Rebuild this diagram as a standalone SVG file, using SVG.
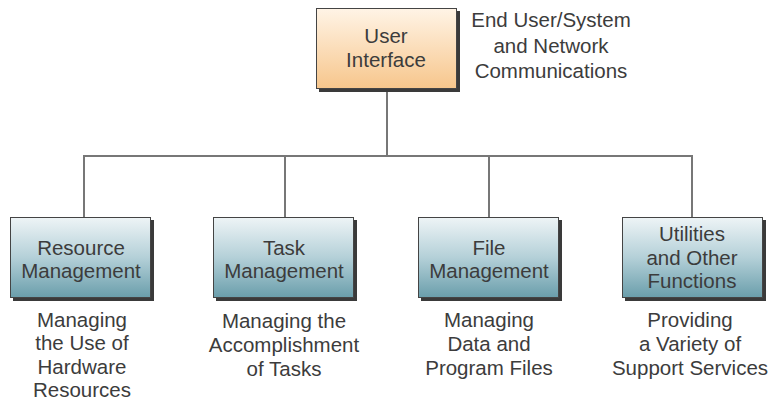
<svg xmlns="http://www.w3.org/2000/svg" width="770" height="401" viewBox="0 0 770 401">
  <defs>
    <linearGradient id="gOrange" x1="0" y1="0" x2="0" y2="1">
      <stop offset="0" stop-color="#fff4e6"/>
      <stop offset="1" stop-color="#f7c68c"/>
    </linearGradient>
    <linearGradient id="gTeal" x1="0" y1="0" x2="0" y2="1">
      <stop offset="0" stop-color="#eef4f6"/>
      <stop offset="0.5" stop-color="#b4d0d8"/>
      <stop offset="1" stop-color="#6a9eab"/>
    </linearGradient>
  </defs>
  <style>
    .shadow { fill: #3a3a3a; }
    .box { stroke: #444; stroke-width: 1; }
    .t { font-family: "Liberation Sans", Arial, sans-serif; font-size: 20.5px; fill: #3c3c3c; text-anchor: middle; }
    .conn { stroke: #777; stroke-width: 2; fill: none; }
  </style>

  <g id="connectors">
    <path class="conn" d="M387 89 V156 M84 217 V156 H692 V217 M285 156 V217 M489 156 V217"/>
  </g>

  <g id="user-interface">
    <rect class="shadow" x="319" y="11" width="141" height="81"/>
    <rect class="box" x="316.5" y="8.5" width="140" height="80" fill="url(#gOrange)"/>
    <text class="t" x="386" y="43">User</text>
    <text class="t" x="386" y="67">Interface</text>
  </g>

  <g id="comm-label">
    <text class="t" x="551" y="27">End User/System</text>
    <text class="t" x="551" y="53">and Network</text>
    <text class="t" x="551" y="78">Communications</text>
  </g>

  <g id="resource-management">
    <rect class="shadow" x="13" y="220" width="141" height="81"/>
    <rect class="box" x="10.5" y="217.5" width="140" height="80" fill="url(#gTeal)"/>
    <text class="t" x="81" y="255">Resource</text>
    <text class="t" x="81" y="278">Management</text>
    <text class="t" x="82" y="327">Managing</text>
    <text class="t" x="82" y="350">the Use of</text>
    <text class="t" x="82" y="374">Hardware</text>
    <text class="t" x="82" y="397">Resources</text>
  </g>

  <g id="task-management">
    <rect class="shadow" x="216" y="220" width="141" height="81"/>
    <rect class="box" x="213.5" y="217.5" width="140" height="80" fill="url(#gTeal)"/>
    <text class="t" x="284" y="255">Task</text>
    <text class="t" x="284" y="278">Management</text>
    <text class="t" x="284" y="328">Managing the</text>
    <text class="t" x="284" y="352">Accomplishment</text>
    <text class="t" x="284" y="376">of Tasks</text>
  </g>

  <g id="file-management">
    <rect class="shadow" x="421" y="220" width="141" height="81"/>
    <rect class="box" x="418.5" y="217.5" width="140" height="80" fill="url(#gTeal)"/>
    <text class="t" x="489" y="255">File</text>
    <text class="t" x="489" y="278">Management</text>
    <text class="t" x="489" y="327">Managing</text>
    <text class="t" x="489" y="351">Data and</text>
    <text class="t" x="489" y="375">Program Files</text>
  </g>

  <g id="utilities">
    <rect class="shadow" x="625" y="220" width="141" height="81"/>
    <rect class="box" x="622.5" y="217.5" width="140" height="80" fill="url(#gTeal)"/>
    <text class="t" x="692" y="241">Utilities</text>
    <text class="t" x="692" y="265">and Other</text>
    <text class="t" x="692" y="288">Functions</text>
    <text class="t" x="690" y="327">Providing</text>
    <text class="t" x="690" y="351">a Variety of</text>
    <text class="t" x="690" y="375">Support Services</text>
  </g>
</svg>
